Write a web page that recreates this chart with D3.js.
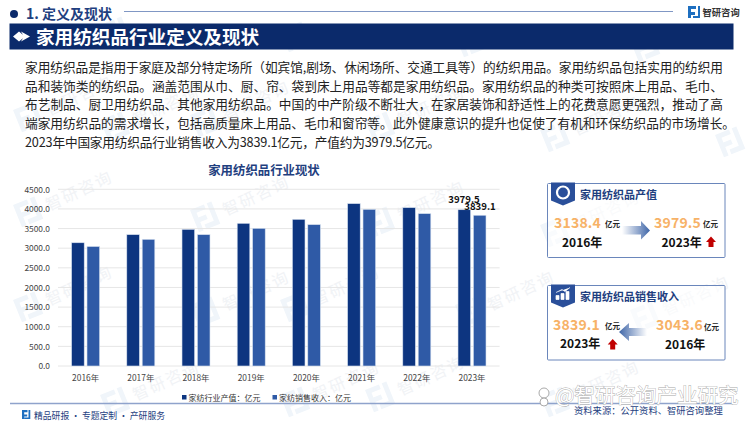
<!DOCTYPE html>
<html><head><meta charset="utf-8">
<script src="https://cdn.jsdelivr.net/npm/d3@7/dist/d3.min.js"></script>
<style>html,body{margin:0;padding:0;background:#fff}svg{display:block}text{font-family:"Noto Sans CJK SC","Noto Sans",sans-serif}</style>
</head><body><svg id="c" width="750" height="422"></svg>
<script>
const years=["2016年","2017年","2018年","2019年","2020年","2021年","2022年","2023年"];
const output=[3138.4,3345,3481,3634,3736,4135,4033,3979.5];
const sales=[3043.6,3226,3345,3506,3600,3990,3880,3839.1];
const ticks=[0,500,1000,1500,2000,2500,3000,3500,4000,4500];
const seriesNames=["家纺行业产值：亿元","家纺销售收入：亿元"];
const paragraph=[
"家用纺织品是指用于家庭及部分特定场所（如宾馆,剧场、休闲场所、交通工具等）的纺织用品。家用纺织品包括实用的纺织用",
"品和装饰类的纺织品。涵盖范围从巾、厨、帘、袋到床上用品等都是家用纺织品。家用纺织品的种类可按照床上用品、毛巾、",
"布艺制品、厨卫用纺织品、其他家用纺织品。中国的中产阶级不断壮大，在家居装饰和舒适性上的花费意愿更强烈，推动了高",
"端家用纺织品的需求增长，包括高质量床上用品、毛巾和窗帘等。此外健康意识的提升也促使了有机和环保纺织品的市场增长。",
"2023年中国家用纺织品行业销售收入为3839.1亿元，产值约为3979.5亿元。"];
const lineWidths=[698,698,698,710,415];
const navy="#0b2a6b",c1="#0d3580",c2="#2f5aa6",orange="#f7b267";
const svg=d3.select("#c");
const defs=svg.append("defs");
const g1=defs.append("linearGradient").attr("id","gr");
g1.append("stop").attr("offset",0).attr("stop-color","#fff");
g1.append("stop").attr("offset",1).attr("stop-color","#3f66a8");
const g2=defs.append("linearGradient").attr("id","gl");
g2.append("stop").attr("offset",0).attr("stop-color","#3f66a8");
g2.append("stop").attr("offset",1).attr("stop-color","#fff");

// watermarks
const wm=svg.append("g");
[[13,110],[190,115],[365,120],[540,130],[715,135],[100,25],[280,30],[455,35],[630,40],
 [13,205],[190,210],[365,215],[540,225],[100,120],[280,300],[455,305],[630,310],
 [13,300],[190,305],[365,390],[540,395],[100,395],[280,395]].forEach(([x,y])=>{
  wm.append("path").attr("transform",`translate(${x},${y}) rotate(-22)`).attr("d","M0 0h15v5h-10v5h8v5h-8v9h-5zM18 0h5v24h-15v-5h10z").attr("fill","#f0f5fa");
  if(x+95<750&&y>50) wm.append("text").attr("transform",`translate(${x+36},${y+6}) rotate(-25)`).attr("font-size",16).attr("letter-spacing",2).attr("fill","#f1f3f6").text("智研咨询");
});

// header
svg.append("circle").attr("cx",14).attr("cy",14).attr("r",4).attr("fill",navy);
svg.append("text").attr("x",26).attr("y",19).attr("font-size",14).attr("font-weight",700).attr("fill","#1f3f7f").text("1. 定义及现状");
svg.append("line").attr("x1",124).attr("x2",673).attr("y1",11.5).attr("y2",11.5).attr("stroke","#5f7cb5").attr("stroke-width",.8);
svg.append("path").attr("d","M688 6h8v3h-5v3h4v3h-4v3h-3zM698 6h2v12h-7v-2h5z").attr("fill","#1e6fc0");
svg.append("text").attr("x",702.5).attr("y",15.5).attr("font-size",9.3).attr("font-weight",700).attr("fill","#333").text("智研咨询");
svg.append("rect").attr("x",9.5).attr("y",23.5).attr("width",724).attr("height",26).attr("fill",navy);
svg.append("path").attr("d","M13 36.5l6-5 6 5-6 5zM21 31.5l9 5-9 5 3-5z").attr("fill","#fff");
svg.append("text").attr("x",36).attr("y",44).attr("font-size",18.6).attr("font-weight",700).attr("fill","#fff").text("家用纺织品行业定义及现状");

// paragraph
paragraph.forEach((t,i)=>{
  const el=svg.append("text").attr("x",25).attr("y",71.8+i*18.7).attr("font-size",12.7).attr("fill","#222").text(t);
  if(lineWidths[i]) el.attr("textLength",lineWidths[i]).attr("lengthAdjust","spacing");
});

// chart
const x=d3.scaleBand().domain(years).range([58,499.6]);
const y=d3.scaleLinear().domain([0,4500]).range([366,189.3]);
svg.append("text").attr("x",264).attr("y",175).attr("text-anchor","middle").attr("font-size",12.4).attr("font-weight",700).attr("fill","#1f3f7f").text("家用纺织品行业现状");
const gy=svg.append("g").attr("transform","translate(58,0)").call(d3.axisLeft(y).tickValues(ticks).tickSize(0).tickPadding(8).tickFormat(d3.format(".1f")));
gy.select(".domain").remove();
gy.selectAll("text").attr("font-size",8.4).attr("fill","#444");
svg.append("g").selectAll("line").data(ticks).join("line").attr("x1",58).attr("x2",499.6).attr("y1",d=>y(d)).attr("y2",d=>y(d)).attr("stroke","#e6e6e6").attr("stroke-width",1);
const gx=svg.append("g").attr("transform","translate(0,366)").call(d3.axisBottom(x).tickSize(0).tickPadding(9));
gx.select(".domain").remove();
gx.selectAll("text").attr("font-size",8.4).attr("fill","#444");
const bw=12.6;
[[output,c1,-14],[sales,c2,1.4]].forEach(([vals,col,off])=>{
  svg.append("g").selectAll("rect").data(vals).join("rect")
   .attr("x",(d,i)=>x(years[i])+x.bandwidth()/2+off)
   .attr("y",d=>y(d)).attr("width",bw).attr("height",d=>366-y(d)).attr("fill",col).attr("stroke","#d5dfee").attr("stroke-width",.6);
});
const last=years.length-1;
svg.append("text").attr("x",x(years[last])+x.bandwidth()/2-8).attr("y",y(output[last])-7).attr("text-anchor","middle").attr("font-size",9.6).attr("font-weight",700).attr("fill","#111").text(output[last].toFixed(1));
svg.append("text").attr("x",x(years[last])+x.bandwidth()/2+8).attr("y",y(sales[last])-5).attr("text-anchor","middle").attr("font-size",9.6).attr("font-weight",700).attr("fill","#111").text(sales[last].toFixed(1));
// legend
[[182,c1],[272.5,c2]].forEach(([lx,col],i)=>{
  svg.append("rect").attr("x",lx).attr("y",395).attr("width",4.5).attr("height",4.5).attr("fill",col);
  svg.append("text").attr("x",lx+6.5).attr("y",401).attr("font-size",8).attr("fill","#333").text(seriesNames[i]);
});

// footer
svg.append("line").attr("x1",10).attr("x2",735).attr("y1",403.5).attr("y2",403.5).attr("stroke","#8fa3cc").attr("stroke-width",1.4);
svg.append("path").attr("d","M22 410h5.5v2.2h-3.3v2.2h3v2.2h-3v2.4h-2.2zM28.5 410h1.8v9h-6v-1.6h4.2z").attr("fill","#1e6fc0");
svg.append("text").attr("x",34).attr("y",419).attr("font-size",9.6).attr("fill","#1f3f7f").attr("textLength",131).attr("lengthAdjust","spacingAndGlyphs").text("精品研报 · 专题定制 · 产研服务");
svg.append("text").attr("x",574).attr("y",414).attr("font-size",9.3).attr("fill","#1f3f7f").text("资料来源：公开资料、智研咨询整理");

// cards
function card(top,h,title,iconKind){
  svg.append("rect").attr("x",547.5).attr("y",top).attr("width",177.5).attr("height",h).attr("fill","#fff").attr("fill-opacity",.6).attr("stroke","#6a86bb").attr("stroke-width",1).attr("rx",1);
  svg.append("path").attr("d",`M551 ${top-1}h24v18l-12 5l-12-5z`).attr("fill","#2a4f9a");
  if(iconKind===0){
    svg.append("circle").attr("cx",563).attr("cy",top+9).attr("r",6).attr("fill","none").attr("stroke","#fff").attr("stroke-width",2.2);
  } else svg.append("path").attr("d",`M556 ${top+14}h3v-4h-3zM561 ${top+14}h3v-6h-3zM566 ${top+14}h3v-8h-3zM556 ${top+7}l6-3 3 2 5-4`).attr("fill","#fff").attr("stroke","#fff").attr("stroke-width",.7);
  svg.append("text").attr("x",580).attr("y",top+15).attr("font-size",11).attr("font-weight",700).attr("fill","#1f3f7f").text(title);
}
function num(xp,yp,v){svg.append("text").attr("x",xp).attr("y",yp).attr("font-size",14).attr("font-weight",700).attr("fill",orange).attr("letter-spacing",.2).text(v.toFixed(1));}
function unit(xp,yp){svg.append("text").attr("x",xp).attr("y",yp).attr("font-size",7.5).attr("font-weight",700).attr("fill","#222").text("亿元");}
function yr(xp,yp,t){svg.append("text").attr("x",xp).attr("y",yp).attr("font-size",12).attr("font-weight",700).attr("fill","#111").text(t);}
function up(cx,top){svg.append("path").attr("d",`M${cx} ${top}l5 5.5h-2.5v5h-5v-5h-2.5z`).attr("fill","#c00000");}
card(183.5,74,"家用纺织品产值",0);
num(554,228,output[0]); unit(605,227);
svg.append("path").attr("d","M622 226h19v-5l9 9.5-9 9v-5h-19z").attr("fill","url(#gr)");
num(654,228,output[last]); unit(703,227);
yr(562,247,"2016年"); yr(661.5,247,"2023年"); up(711,236.5);
card(285.5,74.5,"家用纺织品销售收入",1);
num(553,330,sales[last]); unit(605,329);
svg.append("path").attr("d","M647 328h-18v-5l-10 9 10 9v-5h18z").attr("fill","url(#gl)");
num(656,330,sales[0]); unit(704,330);
yr(560,348,"2023年"); yr(665,349,"2016年"); up(612.7,339);

// platform watermark
svg.append("text").attr("x",555).attr("y",403).attr("font-size",20.5).attr("fill","#fff").attr("stroke","#a8a8a8").attr("stroke-width",.8).attr("paint-order","stroke").text("@智研咨询产业研究");
svg.append("circle").attr("cx",544).attr("cy",393).attr("r",5).attr("fill","#fff").attr("stroke","#aaa");
svg.append("circle").attr("cx",544).attr("cy",402).attr("r",4).attr("fill","#fff").attr("stroke","#aaa");
</script></body></html>
